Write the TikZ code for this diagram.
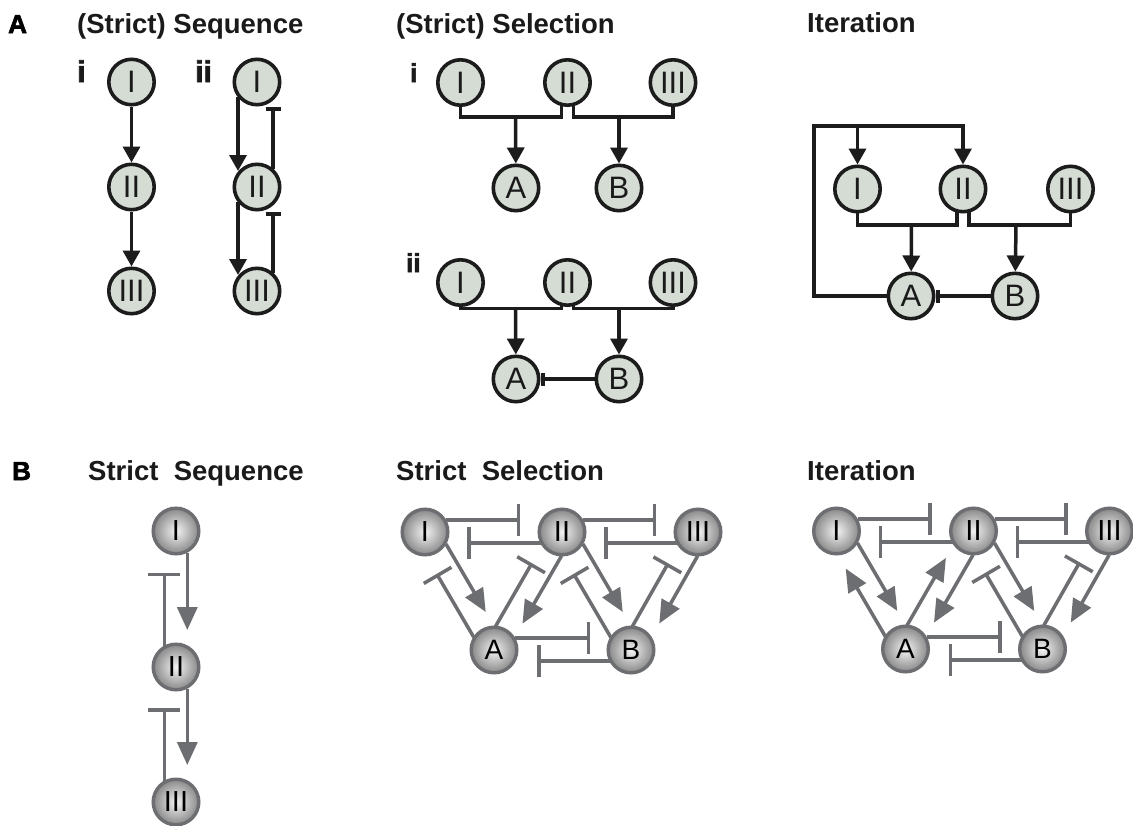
\documentclass[tikz,border=0pt]{standalone}
\usepackage{fontspec}
\setmainfont{Liberation Sans}
\newfontfamily\heavyfont{Liberation Sans}[UprightFont={* Bold}, UprightFeatures={FakeBold=2.5}]
\usetikzlibrary{arrows.meta,calc}
\pgfdeclarelayer{back}
\pgfdeclarelayer{bg}
\pgfsetlayers{back,bg,main}
\definecolor{afill}{HTML}{D4DCD4}
\definecolor{ablack}{HTML}{1C1C1C}
\definecolor{bgray}{HTML}{6D6E71}
\definecolor{bin}{HTML}{F4F4F4}
\definecolor{bout}{HTML}{888888}
\definecolor{txt}{HTML}{1A1A1A}
\tikzset{
  title/.style={inner sep=0pt, anchor=base west, text=txt, font=\fontsize{27.5}{30}\selectfont\bfseries},
  panel/.style={inner sep=0pt, anchor=base west, text=black, font=\fontsize{26}{30}\selectfont\heavyfont},
  sublab/.style={inner sep=0pt, anchor=base west, text=txt, font=\fontsize{30}{32}\selectfont\heavyfont},
  sublabs/.style={inner sep=0pt, anchor=base west, text=txt, font=\fontsize{26}{28}\selectfont\heavyfont},
  anode/.style={circle, draw=ablack, fill=afill, line width=3.6pt, minimum size=45.4pt, inner sep=0pt, text=txt, font=\fontsize{31}{32}\selectfont},
  bnode/.style={circle, draw=bgray, line width=3.4pt, minimum size=45.6pt, inner sep=0pt, shading=radial, inner color=bin, outer color=bout, text=black, font=\fontsize{29}{30}\selectfont},
  bletter/.style={font=\fontsize{28}{30}\selectfont},
  aline/.style={draw=ablack, line width=3.5pt},
  aarr/.style={aline, -{Triangle[length=16pt,width=17pt]}},
  ainh/.style={aline, -{Bar[width=15pt]}},
  ablock/.style={aline, -{Rectangle[length=4.5pt,width=13pt]}},
  garr/.style={draw=bgray, line width=3.5pt, -{Triangle[length=23pt,width=20pt]}},
  ginh/.style={draw=bgray, line width=3.5pt, -{Bar[width=32pt]}},
  garrs/.style={garr, shorten <=21pt, shorten >=37pt},
  ginhs/.style={ginh, shorten <=21pt, shorten >=42pt},
}
\newcommand\bnet[5]{%
  \node[bnode] (#1I) at ({425+#2},{532+#3}) {I};
  \node[bnode] (#1II) at ({562+#2},{532+#3}) {II};
  \node[bnode] (#1III) at ({698+#2},{532+#3}) {III};
  \node[bnode, bletter] (#1A) at ({494+#2},{650+#3}) {A};
  \node[bnode, bletter] (#1B) at ({631+#2},{650+#3}) {B};
  \begin{pgfonlayer}{bg}
    \draw[ginhs] ($(#1I)+(0,-12)$) -- ($(#1II)+(0,-12)$);
    \draw[ginhs] ($(#1II)+(0,11)$) -- ($(#1I)+(0,11)$);
    \draw[ginhs] ($(#1II)+(0,-12)$) -- ($(#1III)+(0,-12)$);
    \draw[ginhs] ($(#1III)+(0,11)$) -- ($(#1II)+(0,11)$);
    \draw[ginhs, shorten >=41pt] ($(#1A)+(0,-12)$) -- ($(#1B)+(0,-12)$);
    \draw[ginhs, shorten >=43pt] ($(#1B)+(0,11)$) -- ($(#1A)+(0,11)$);
    \draw[garrs] ($(#1I)+(10.4,-6.1)$) -- ($(#1A)+(10.4,-6.1)$);
    \draw[#4] ($(#1A)+(-9.5,5.6)$) -- ($(#1I)+(-9.5,5.6)$);
    \draw[garrs] ($(#1II)+(10,5.7)$) -- ($(#1A)+(10,5.7)$);
    \draw[#5] ($(#1A)+(-9.1,-5.2)$) -- ($(#1II)+(-9.1,-5.2)$);
    \draw[garrs] ($(#1II)+(10.4,-6.1)$) -- ($(#1B)+(10.4,-6.1)$);
    \draw[ginhs] ($(#1B)+(-9.5,5.6)$) -- ($(#1II)+(-9.5,5.6)$);
    \draw[garrs] ($(#1III)+(10,5.7)$) -- ($(#1B)+(10,5.7)$);
    \draw[ginhs] ($(#1B)+(-9.1,-5.2)$) -- ($(#1III)+(-9.1,-5.2)$);
  \end{pgfonlayer}%
}
\begin{document}
\begin{tikzpicture}[x=1pt, y=-1pt]
\begin{pgfonlayer}{back}
\fill[white] (0,0) rectangle (1133,825);
\end{pgfonlayer}
\useasboundingbox (0,0) rectangle (1133,825);

% ---------- titles ----------
\node[panel] (labA) at (8,33) {A};
\node[title] (tA1) at (77,33) {(Strict) Sequence};
\node[title] (tA2) at (396,33) {(Strict) Selection};
\node[title] (tA3) at (807,32) {Iteration};
\node[panel] (labB) at (12,480) {B};
\node[title] (tB1) at (88,480) {Strict\ \ Sequence};
\node[title] (tB2) at (396,480) {Strict\ \ Selection};
\node[title] (tB3) at (807,480) {Iteration};

% ---------- A: sequence ----------
\node[sublab] (li1) at (77,82) {i};
\node[sublab] (lii1) at (195,82) {ii};
\node[anode] (a1I) at (131.5,82) {I};
\node[anode] (a1II) at (131.5,187) {II};
\node[anode] (a1III) at (131.5,291) {III};
\node[anode] (a2I) at (257,82) {I};
\node[anode] (a2II) at (257,187) {II};
\node[anode] (a2III) at (257,291) {III};
\begin{pgfonlayer}{bg}
\draw[aarr] (a1I) -- (a1II);
\draw[aarr] (a1II) -- (a1III);
\draw[aarr, shorten <=15pt, shorten >=16pt] ($(a2I)+(-19,0)$) -- ($(a2II)+(-19,0)$);
\draw[aarr, shorten <=15pt, shorten >=16pt] ($(a2II)+(-19,0)$) -- ($(a2III)+(-19,0)$);
\draw[ainh, shorten <=18pt, shorten >=25pt] ($(a2II)+(16,0)$) -- ($(a2I)+(16,0)$);
\draw[ainh, shorten <=18pt, shorten >=25pt] ($(a2III)+(16,0)$) -- ($(a2II)+(16,0)$);
\end{pgfonlayer}

% ---------- A: selection i ----------
\node[sublabs] (li2) at (410,82) {i};
\node[anode] (s1I) at (460.5,82.5) {I};
\node[anode] (s1II) at (567.5,82.5) {II};
\node[anode] (s1III) at (673,82.5) {III};
\node[anode] (s1A) at (516,188) {A};
\node[anode] (s1B) at (619,188) {B};
\coordinate (s1jA) at (515.5,117);
\coordinate (s1jB) at (619,117);
\begin{pgfonlayer}{bg}
\draw[aline] (s1I.center) |- ($(s1II)+(-6,34.5)$) -- ($(s1II)+(-6,0)$);
\draw[aline] ($(s1II)+(6,0)$) |- ($(s1III)+(0,34.5)$) -- (s1III.center);
\draw[aarr] (s1jA) -- (s1A);
\draw[aarr] (s1jB) -- (s1B);
\end{pgfonlayer}

% ---------- A: selection ii ----------
\node[sublabs] (lii2) at (406,272) {ii};
\node[anode] (s2I) at (460.5,282.5) {I};
\node[anode] (s2II) at (567.5,282.5) {II};
\node[anode] (s2III) at (673,282.5) {III};
\node[anode] (s2A) at (516,379) {A};
\node[anode] (s2B) at (619,379) {B};
\coordinate (s2jA) at (515.5,308.5);
\coordinate (s2jB) at (619,308.5);
\begin{pgfonlayer}{bg}
\draw[aline] (s2I.center) |- ($(s2II)+(-6,26)$) -- ($(s2II)+(-6,0)$);
\draw[aline] ($(s2II)+(6,0)$) |- ($(s2III)+(0,26)$) -- (s2III.center);
\draw[aarr] (s2jA) -- (s2A);
\draw[aarr] (s2jB) -- (s2B);
\draw[ablock] (s2B) -- (s2A);
\end{pgfonlayer}

% ---------- A: iteration ----------
\node[anode] (i3I) at (857.5,189) {I};
\node[anode] (i3II) at (963,189) {II};
\node[anode] (i3III) at (1070.5,189) {III};
\node[anode] (i3A) at (911,296) {A};
\node[anode] (i3B) at (1015,296) {B};
\coordinate (fbc) at (814,126);
\coordinate (fbj) at (857.5,126);
\coordinate (i3jA) at (911.5,225);
\coordinate (i3jB) at (1016,225);
\begin{pgfonlayer}{bg}
\draw[aarr] (i3A.west) -| (fbc) -| (i3II);
\draw[aarr] (fbj) -- (i3I);
\draw[aline] (i3I.center) |- ($(i3II)+(-6,36)$) -- ($(i3II)+(-6,0)$);
\draw[aline] ($(i3II)+(6,0)$) |- ($(i3III)+(0,36)$) -- (i3III.center);
\draw[aarr] (i3jA) -- (i3A);
\draw[aarr] (i3jB) -- (i3B);
\draw[ablock] (i3B) -- (i3A);
\end{pgfonlayer}

% ---------- B: strict sequence ----------
\node[bnode] (bI) at (176,531) {I};
\node[bnode] (bII) at (176,667) {II};
\node[bnode] (bIII) at (176,802) {III};
\begin{pgfonlayer}{bg}
\draw[garr, shorten <=21.5pt, shorten >=37pt] ($(bI)+(11.3,0)$) -- ($(bII)+(11.3,0)$);
\draw[ginh, shorten <=21.5pt, shorten >=41.7pt] ($(bII)+(-11.7,0)$) -- ($(bI)+(-11.7,0)$);
\draw[garr, shorten <=21.5pt, shorten >=37pt] ($(bII)+(11.3,0)$) -- ($(bIII)+(11.3,0)$);
\draw[ginh, shorten <=21.5pt, shorten >=41pt] ($(bIII)+(-11.7,0)$) -- ($(bII)+(-11.7,0)$);
\end{pgfonlayer}

% ---------- B: strict selection & iteration ----------
\bnet{bs}{0}{0}{ginhs}{ginhs}
\bnet{bt}{411.5}{-1}{garrs}{garrs}
\end{tikzpicture}
\end{document}
